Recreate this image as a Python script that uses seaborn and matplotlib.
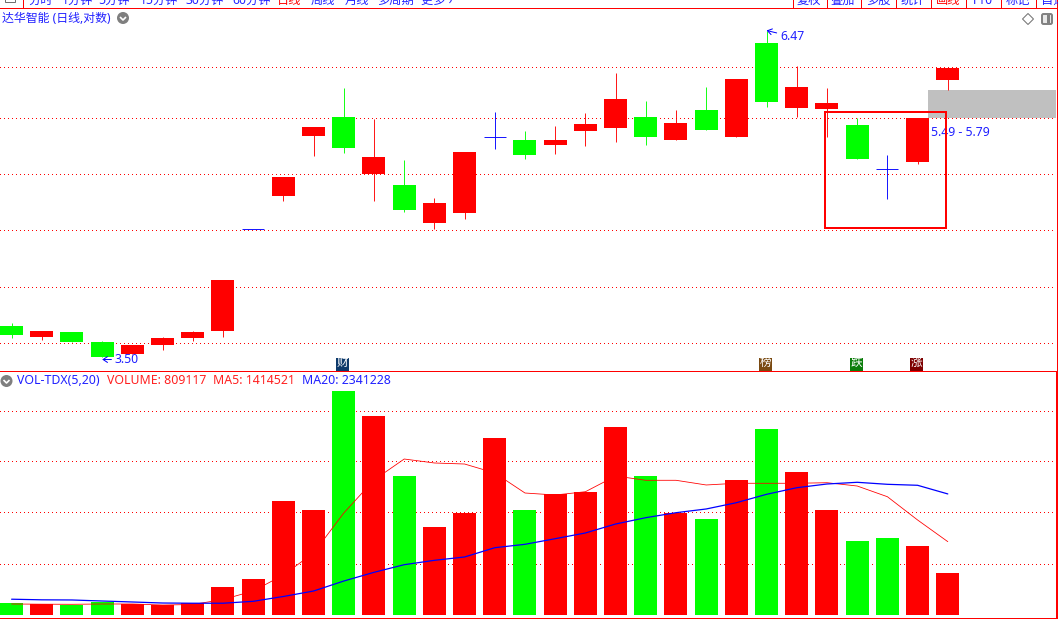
import numpy as np
import pandas as pd
import seaborn as sns
import matplotlib
matplotlib.use("Agg")
import matplotlib.pyplot as plt
from matplotlib.patches import Rectangle, Circle, Polygon, FancyBboxPatch
from matplotlib.ticker import NullLocator, NullFormatter
from matplotlib.transforms import offset_copy

# ---------- data ----------
opens = [3.713, 3.636, 3.671, 3.602, 3.520, 3.581, 3.629, 3.677, 4.452, 4.740, 5.306, 5.499, 4.940, 4.838, 4.506, 4.591,
         5.293, 5.266, 5.217, 5.356, 5.386, 5.499, 5.266, 5.572, 5.296, 6.319, 5.593, 5.582, 5.417, 4.983, 5.052, 5.897]
closes = [3.652, 3.678, 3.602, 3.500, 3.581, 3.629, 3.671, 4.047, 4.452, 4.912, 5.397, 5.187, 5.100, 4.617, 4.678, 5.148,
          5.293, 5.119, 5.266, 5.427, 5.688, 5.296, 5.437, 5.366, 5.906, 5.656, 5.818, 5.646, 5.081, 4.983, 5.489, 6.033]
highs = [3.730, 3.678, 3.671, 3.609, 3.581, 3.639, 3.677, 4.047, 4.452, 4.912, 5.397, 5.807, 5.478, 5.071, 4.722, 5.148,
         5.551, 5.356, 5.407, 5.540, 5.973, 5.666, 5.572, 5.818, 5.906, 6.470, 6.052, 5.807, 5.489, 5.119, 5.489, 6.033]
lows = [3.632, 3.615, 3.602, 3.500, 3.520, 3.548, 3.609, 3.636, 4.452, 4.698, 5.109, 5.139, 4.695, 4.600, 4.454, 4.539,
        5.178, 5.081, 5.129, 5.207, 5.246, 5.217, 5.266, 5.366, 5.296, 5.604, 5.499, 5.300, 5.081, 4.713, 5.033, 5.785]
price_grid = [6.036, 5.489, 4.940, 4.446, 3.994, 3.595]
zone_low, zone_high = 5.49, 5.79

volume_m = [0.233, 0.204, 0.192, 0.243, 0.204, 0.184, 0.214, 0.534, 0.689, 2.204, 2.029, 4.340, 3.854, 2.689, 1.699, 1.971,
            3.427, 2.029, 2.340, 2.379, 3.641, 2.689, 1.971, 1.854, 2.612, 3.602, 2.767, 2.029, 1.427, 1.485, 1.330, 0.809]
volume_dir = ["d", "u", "d", "d", "u", "u", "u", "u", "u", "u", "u", "d", "u", "d", "u", "u",
              "u", "d", "u", "u", "u", "d", "u", "d", "u", "d", "u", "u", "d", "d", "u", "u"]
ma5_m = [0.204, 0.200, 0.198, 0.204, 0.204, 0.184, 0.194, 0.291, 0.456, 0.767, 1.194, 1.971, 2.612, 3.019, 2.942, 2.922,
         2.748, 2.359, 2.320, 2.384, 2.689, 2.606, 2.606, 2.515, 2.548, 2.548, 2.548, 2.559, 2.495, 2.287, 1.835, 1.4145]
ma20_m = [0.297, 0.285, 0.282, 0.262, 0.243, 0.223, 0.219, 0.219, 0.256, 0.350, 0.456, 0.650, 0.819, 0.967, 1.052, 1.117,
          1.297, 1.363, 1.472, 1.583, 1.757, 1.880, 1.977, 2.049, 2.171, 2.334, 2.462, 2.534, 2.567, 2.528, 2.509, 2.341]
vol_grid = [0.990, 1.981, 2.971, 3.961]

title = "达华智能 (日线,对数)"
period_labels = ["分时", "1分钟", "5分钟", "15分钟", "30分钟", "60分钟", "日线", "周线", "月线", "多周期", "更多 ›"]
tool_labels = ["复权", "叠加", "多股", "统计", "画线", "F10", "标记", "自选"]
badges = [("财", 11, "#0e3a6b"), ("榜", 25, "#7a4a12"), ("跌", 28, "#0b7d0b"), ("涨", 30, "#7d0000")]

RED, GREEN, BLUE, TXT = "#ff0000", "#00ff00", "#0000ff", "#2020ff"

# ---------- layout ----------
W, H = 1058, 619
sns.set_theme(style="white")
FONT = ["Noto Sans", "Noto Sans CJK SC", "DejaVu Sans"]
plt.rcParams["font.family"] = FONT
fig = plt.figure(figsize=(W / 100, H / 100), dpi=100, facecolor="white")

PX = 0.72            # one pixel in points
X0, STEP = 11.6, 30.2
XLIM = (-X0 / STEP, (1056 - X0) / STEP)
dotted = (0, (1, 3))


def pane(top, bottom):
    a = fig.add_axes([0, 1 - bottom / H, 1056 / W, (bottom - top) / H])
    a.patch.set_alpha(0)
    for s in a.spines.values():
        s.set_visible(False)
    return a


def style_grid(a, ticks):
    a.set_yticks(ticks)
    a.yaxis.set_minor_locator(NullLocator())
    a.yaxis.set_minor_formatter(NullFormatter())
    a.set_yticklabels([])
    a.set_xticks([])
    a.set_xlabel("")
    a.set_ylabel("")
    a.tick_params(length=0)
    a.grid(axis="y", color=RED, lw=PX, ls=dotted, zorder=0, antialiased=False)
    a.grid(axis="x", visible=False)
    a.set_axisbelow(True)


idx = np.arange(len(opens))

# ---------- price pane ----------
ax = pane(9, 371)
ax.set_yscale("log")
df = pd.DataFrame({"i": idx, "o": opens, "c": closes, "h": highs, "l": lows})
df["top"] = df[["o", "c"]].max(axis=1)
df["bot"] = df[["o", "c"]].min(axis=1)
df["col"] = np.where(df.c > df.o, RED, np.where(df.c < df.o, GREEN, BLUE))

ax.fill_between([(928 - X0) / STEP, XLIM[1]], zone_low, zone_high, color="#c0c0c0", lw=0, zorder=1)
ax.vlines(df.i, df.l, df.h, colors=df.col, lw=PX * 0.9, zorder=2)
solid = df[df.c != df.o]
ax.bar(solid.i, solid.top - solid.bot, bottom=solid.bot, width=23 / STEP, color=solid.col, lw=0, zorder=3, antialiased=False)
doji = df[df.c == df.o]
ax.hlines(doji.o, doji.i - 11 / STEP, doji.i + 11 / STEP, colors=BLUE, lw=PX * 0.9, zorder=3)

ax.set_xlim(*XLIM)
ax.set_ylim(3.411, 6.737)
style_grid(ax, price_grid)

arrow = dict(arrowstyle="->,head_length=0.45,head_width=0.3", color=BLUE, lw=PX, shrinkA=0, shrinkB=0, mutation_scale=7)
ax.annotate(f"{min(lows):.2f}", xy=(3, min(lows)), xycoords=offset_copy(ax.transData, fig=fig, y=-1.6, units="points"),
            xytext=(9.0, 0), textcoords="offset points", color=TXT, fontsize=8.8, va="center", ha="left",
            arrowprops=arrow, zorder=6)
ax.annotate(f"{max(highs):.2f}", xy=(25, max(highs)), xytext=(9.6, -4.4), textcoords="offset points",
            color=TXT, fontsize=8.8, va="center", ha="left", arrowprops=arrow, zorder=6)
ax.text((931 - X0) / STEP, 5.345, f"{zone_low:.2f} - {zone_high:.2f}", color=TXT, fontsize=8.8, va="center", ha="left", zorder=6)

# ---------- volume pane ----------
vx = pane(372, 618)
vdf = pd.DataFrame({"i": idx, "v": volume_m, "d": volume_dir})
sns.barplot(data=vdf, x="i", y="v", hue="d", palette={"u": RED, "d": GREEN}, native_scale=True, dodge=False,
            width=23 / STEP, saturation=1, linewidth=0, legend=False, ax=vx, zorder=3)
for p in vx.patches:
    p.set_antialiased(False)
sns.lineplot(x=idx, y=ma5_m, color=RED, lw=PX * 0.8, ax=vx, zorder=4, errorbar=None)
sns.lineplot(x=idx, y=ma20_m, color="#0000ff", lw=PX * 1.25, ax=vx, zorder=5, errorbar=None)
vx.set_xlim(*XLIM)
vx.set_ylim(-3.5 / 51.5, 242.5 / 51.5)
style_grid(vx, vol_grid)

# ---------- window chrome (pixel coordinates) ----------
ov = fig.add_axes([0, 0, 1, 1])
ov.set_xlim(0, W)
ov.set_ylim(H, 0)
ov.axis("off")
ov.patch.set_alpha(0)


def hline(y, x0=0, x1=W, lw=1.0):
    ov.plot([x0, x1], [y, y], color=RED, lw=lw * PX, solid_capstyle="butt", antialiased=False)


def vline(x, y0, y1, lw=1.0):
    ov.plot([x, x], [y0, y1], color=RED, lw=lw * PX, solid_capstyle="butt", antialiased=False)


hline(8.0)
hline(371.0)
hline(618.0)
vline(1056.5, 0, 371)
vline(1057, 371, 619, 2)
vline(22.5, 0, 8)
vline(433.5, 618, 619)

# truncated toolbar text
clip = Rectangle((0, 0), W, 8, transform=ov.transData)
for x, s in zip([28, 62, 98, 140, 186, 232, 277, 311, 345, 377, 421], period_labels):
    t = ov.text(x, 0.5, s, color="#ff0000" if s == "日线" else TXT, fontsize=8.8, ha="left", va="center")
    t.set_clip_path(clip)
for x in [792, 826, 860, 895, 930, 965, 1000, 1035]:
    vline(x + 0.5, 0, 8)
for x, s in zip([809, 843, 878, 913, 948, 983, 1018, 1053], tool_labels):
    t = ov.text(x, 0.5, s, color="#ff0000" if s == "画线" else TXT, fontsize=8.8, ha="center", va="center")
    t.set_clip_path(clip)
ov.add_patch(Rectangle((5, -4), 10, 6, fc="white", ec="#707070", lw=PX))

# titles
ov.text(2, 18, title, color=TXT, fontsize=8.6, ha="left", va="center")


def chevron(x, y):
    ov.add_patch(Circle((x, y), 6, fc="#7f7f7f", ec="none"))
    ov.plot([x - 3, x, x + 3], [y - 1, y + 2, y - 1], color="white", lw=1.2, solid_capstyle="butt")


chevron(123, 18)
chevron(6.5, 381)

for x, s, c in [(17, "VOL-TDX(5,20)", TXT), (107, "VOLUME: 809117", "#ff2020"),
                (213, "MA5: 1414521", "#ff2020"), (302, "MA20: 2341228", TXT)]:
    ov.text(x, 380.5, s, color=c, fontsize=8.85, ha="left", va="center")

# icons on the right
ov.add_patch(Polygon([(1028, 13.5), (1033.5, 19), (1028, 24.5), (1022.5, 19)], closed=True, fc="white", ec="#707070", lw=PX))
ov.add_patch(FancyBboxPatch((1042, 14), 10, 10, boxstyle="round,pad=0,rounding_size=1.5", fc="#e8e8e8", ec="#808080", lw=1.4))
ov.add_patch(Rectangle((1047, 15), 3, 8, fc="#808080", ec="none"))

# event badges
for s, i, c in badges:
    cx = X0 + STEP * i - 1
    ov.add_patch(Rectangle((cx - 6.5, 357.5), 13, 13, fc=c, ec="none"))
    ov.text(cx, 363.5, s, color="white", fontsize=8.4, ha="center", va="center")

# analyst's box
ov.add_patch(Rectangle((825, 112), 121, 116, fc="none", ec=RED, lw=2 * PX, antialiased=False))

fig.savefig("out.png", dpi=100, facecolor="white")
